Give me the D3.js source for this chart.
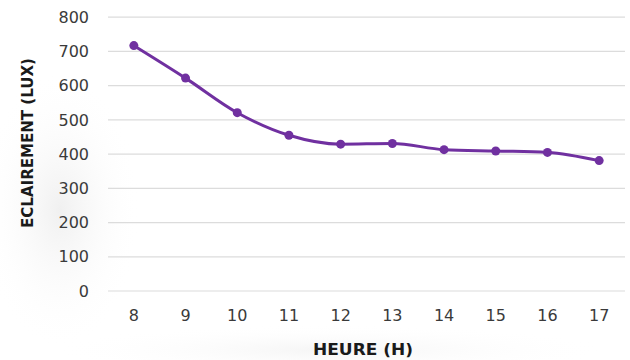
<!DOCTYPE html>
<html><head><meta charset="utf-8">
<script src="https://cdn.jsdelivr.net/npm/d3@7"></script>
<style>body{margin:0;background:#fff}</style>
</head><body>
<svg id="c" width="630" height="360"></svg>
<script>
const hours = ["8","9","10","11","12","13","14","15","16","17"];
const lux = [717, 622, 521, 455, 429, 431, 413, 409, 405, 381];
const yTicks = [0,100,200,300,400,500,600,700,800];

const svg = d3.select("#c");
const defs = svg.append("defs");
const rg = defs.append("radialGradient").attr("id","sh").attr("cx","0.5").attr("cy","0.5").attr("r","0.5");
rg.append("stop").attr("offset","0").attr("stop-color","#e6e6e6");
rg.append("stop").attr("offset","1").attr("stop-color","#fff").attr("stop-opacity",0);
svg.append("rect").attr("width",630).attr("height",360).attr("fill","#fff");
svg.append("ellipse").attr("cx",60).attr("cy",210).attr("rx",80).attr("ry",140).attr("fill","url(#sh)").attr("opacity",0.6);
svg.append("ellipse").attr("cx",330).attr("cy",350).attr("rx",280).attr("ry",25).attr("fill","url(#sh)").attr("opacity",0.4);

const x = d3.scaleBand().domain(hours).range([108, 625]);
const y = d3.scaleLinear().domain([0, 800]).range([291, 17.2]);

const grid = svg.append("g");
grid.selectAll("line").data(yTicks).join("line")
  .attr("x1",108).attr("x2",625)
  .attr("y1",d=>y(d)).attr("y2",d=>y(d))
  .attr("stroke","#dcdcdc").attr("stroke-width",1.2);

const font = "'DejaVu Sans', sans-serif";
const yAxis = svg.append("g").attr("transform","translate(96,0)")
  .call(d3.axisLeft(y).tickValues(yTicks).tickSize(0).tickPadding(7));
yAxis.select(".domain").remove();
yAxis.selectAll("text").attr("font-family",font).attr("font-size",16).attr("fill","#3a3a3a");

const xAxis = svg.append("g").attr("transform","translate(0,315)")
  .call(d3.axisBottom(x).tickSize(0).tickPadding(0));
xAxis.select(".domain").remove();
xAxis.selectAll("text").attr("font-family",font).attr("font-size",16).attr("fill","#3a3a3a").attr("dy","0.35em");

const line = d3.line().x((d,i)=>x(hours[i])+x.bandwidth()/2).y(d=>y(d)).curve(d3.curveMonotoneX);
svg.append("path").datum(lux).attr("d",line).attr("fill","none").attr("stroke","#7030a0").attr("stroke-width",3);
svg.append("g").selectAll("circle").data(lux).join("circle")
  .attr("cx",(d,i)=>x(hours[i])+x.bandwidth()/2).attr("cy",d=>y(d)).attr("r",4.5).attr("fill","#7030a0");

svg.append("text").attr("x",363).attr("y",355).attr("text-anchor","middle")
  .attr("font-family",font).attr("font-weight","bold").attr("font-size",16)
  .attr("fill","#1a1a1a").attr("textLength",100).attr("lengthAdjust","spacingAndGlyphs").text("HEURE (H)");
svg.append("text").attr("transform","translate(33,143) rotate(-90)").attr("text-anchor","middle")
  .attr("font-family",font).attr("font-weight","bold").attr("font-size",15)
  .attr("fill","#1a1a1a").attr("textLength",170).attr("lengthAdjust","spacingAndGlyphs").text("ECLAIREMENT (LUX)");
</script>
</body></html>
